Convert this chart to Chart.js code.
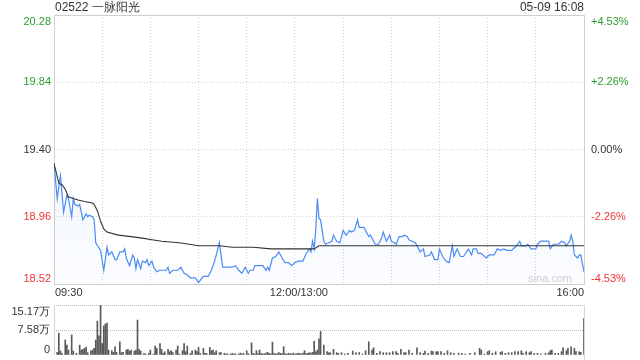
<!DOCTYPE html>
<html>
<head>
<meta charset="utf-8">
<script src="https://cdn.jsdelivr.net/npm/chart.js@4"></script>
<style>
body{margin:0;background:#fff;}
#wrap{position:relative;width:640px;height:360px;overflow:hidden;}
#priceChart{position:absolute;left:0;top:0;}
#volChart{position:absolute;left:0;top:295px;}
</style>
</head>
<body>
<div id="wrap">
<canvas id="priceChart" width="640" height="300"></canvas>
<canvas id="volChart" width="640" height="65"></canvas>
</div>
<script>
const stockName = '02522 一脉阳光'
const stampText = '05-09 16:08'
const timeLabels = ['09:30', '12:00/13:00', '16:00']
const timeLabelAt = [0, 150, 330]
const gridMins = [0, 30, 60, 90, 120, 150, 180, 210, 240, 270, 300, 330]
const priceTicks = [18.52, 18.96, 19.40, 19.84, 20.28]
const pctLabels = ['-4.53%', '-2.26%', '0.00%', '+2.26%', '+4.53%']
const prevClose = 19.40
const volTicks = [0, 7.58, 15.17]
const volLabels = ['0', '7.58万', '15.17万']

// minute index (0 = 09:30, 150 = 12:00/13:00, 330 = 16:00)
const priceMin = [0,2,4,6,8,9,11,12,13,15,16,18,20,21,22,24,25,26,29,31,33,34,36,38,39,41,43,44,45,47,49,50,51,52,54,55,57,58,59,61,62,64,66,70,71,72,74,77,79,81,83,85,88,90,93,96,98,100,103,104,105,111,113,115,117,119,120,121,122,124,125,130,132,133,134,136,138,140,142,144,146,148,150,152,155,157,159,160,161,162,163,164,165,166,168,169,171,173,174,176,178,180,182,184,185,187,189,190,193,196,197,200,202,204,205,207,209,210,212,213,215,217,218,220,221,223,225,227,228,230,231,234,235,237,239,240,242,244,246,248,249,251,253,255,258,260,261,263,264,266,269,271,274,276,278,280,282,285,288,290,291,294,295,297,300,301,303,305,308,309,311,314,316,318,319,321,322,323,324,326,327,328,330]
const priceVal = [19.31,19.08,19.23,18.99,19.10,19.08,18.96,19.08,19.04,19.03,19.04,18.94,18.98,18.96,18.97,18.96,18.94,18.79,18.74,18.61,18.76,18.71,18.73,18.68,18.68,18.73,18.73,18.75,18.69,18.64,18.71,18.69,18.62,18.68,18.62,18.67,18.66,18.68,18.64,18.67,18.63,18.60,18.61,18.61,18.63,18.59,18.61,18.61,18.63,18.59,18.58,18.56,18.56,18.53,18.57,18.57,18.61,18.67,18.79,18.71,18.63,18.63,18.64,18.61,18.59,18.63,18.61,18.59,18.61,18.61,18.64,18.64,18.61,18.63,18.61,18.69,18.70,18.73,18.69,18.66,18.66,18.64,18.66,18.67,18.67,18.72,18.75,18.73,18.80,18.75,18.88,19.08,18.95,18.94,18.80,18.78,18.79,18.80,18.84,18.80,18.79,18.87,18.84,18.87,18.86,18.87,18.94,18.89,18.89,18.83,18.84,18.78,18.78,18.82,18.86,18.80,18.84,18.80,18.79,18.78,18.83,18.83,18.84,18.83,18.81,18.80,18.79,18.75,18.73,18.75,18.70,18.71,18.73,18.68,18.68,18.75,18.70,18.67,18.66,18.77,18.70,18.75,18.70,18.70,18.75,18.71,18.75,18.75,18.72,18.72,18.69,18.71,18.71,18.75,18.74,18.75,18.74,18.74,18.77,18.80,18.77,18.77,18.78,18.75,18.75,18.78,18.80,18.80,18.80,18.75,18.78,18.78,18.80,18.79,18.77,18.80,18.84,18.80,18.71,18.69,18.71,18.71,18.60]

const avgMin = [0,3,5,7,9,12,15,19,24,25,27,29,31,33,40,48,55,61,67,78,90,103,111,124,135,162,165,190,330]
const avgVal = [19.31,19.18,19.17,19.14,19.09,19.08,19.07,19.06,19.05,19.04,19.00,18.93,18.88,18.86,18.84,18.83,18.82,18.81,18.80,18.79,18.77,18.77,18.76,18.76,18.75,18.75,18.77,18.77,18.77]

// volume in 万 shares
const volMin = [2,3,4,5,7,8,9,11,12,14,16,17,18,19,20,21,23,24,25,26,27,28,29,30,31,32,33,34,36,37,38,39,41,42,43,45,46,47,48,50,51,52,53,54,56,57,59,60,62,63,64,66,67,68,69,71,72,73,74,76,77,78,80,81,82,83,85,86,88,89,90,91,93,94,95,97,98,99,100,101,103,104,106,107,108,110,111,112,113,115,116,117,118,120,121,123,124,125,126,127,128,129,130,131,132,133,134,135,136,137,138,139,140,141,142,143,144,145,146,147,148,149,150,151,152,153,154,155,156,157,158,159,160,161,162,163,164,165,166,168,170,171,172,174,176,177,179,181,183,186,188,190,192,194,196,198,199,201,203,205,207,209,211,213,214,216,218,219,221,223,226,228,230,231,233,235,236,238,239,241,243,245,247,249,252,254,256,259,262,265,266,268,270,271,273,275,278,279,281,283,285,287,289,291,292,294,296,297,299,301,303,306,308,309,310,312,314,316,317,319,320,322,324,325,327,328,330]
const volVal = [0.8,6.6,1.2,0.5,4.55,3.0,1.5,6.1,1.2,0.5,3.0,1.5,1.7,2.0,2.4,0.7,1.3,1.5,2.0,4.55,10.3,5.8,15.17,3.5,8.8,9.4,9.7,1.5,1.3,0.8,2.5,0.8,4.0,0.7,0.8,1.5,1.7,1.2,1.5,1.2,1.5,10.6,1.7,1.2,0.5,0.3,0.5,1.5,0.3,2.7,2.0,3.5,1.7,0.5,1.0,1.7,1.0,1.3,0.7,1.5,2.7,0.3,1.3,3.5,1.0,2.7,0.5,1.3,1.5,1.0,2.3,0.5,2.0,0.5,0.5,2.3,1.3,1.5,0.7,1.3,0.7,0.7,0.5,0.3,0.4,0.3,0.5,0.3,0.4,0.3,0.6,0.3,0.5,1.3,0.4,3.7,0.5,0.3,1.3,0.4,1.5,0.5,0.3,0.4,0.6,0.8,0.5,0.3,3.9,0.5,0.3,0.4,0.7,0.5,0.4,2.5,0.4,0.3,0.5,0.4,0.3,0.6,0.3,0.4,0.5,0.5,0.3,0.6,1.3,0.4,0.5,0.7,0.6,0.8,4.2,1.0,1.5,4.9,7.1,3.0,1.0,0.7,0.7,1.7,0.7,0.5,0.7,0.3,0.5,1.2,0.7,0.7,0.3,1.3,4.0,1.5,2.2,0.5,1.0,0.7,0.7,0.7,1.0,1.0,0.5,1.7,0.7,0.7,1.5,0.5,2.2,0.7,0.5,1.2,0.5,1.2,1.0,1.0,1.0,1.0,0.5,1.3,0.7,0.5,0.5,0.5,0.3,0.5,0.7,2.0,1.5,0.3,1.0,1.3,0.5,1.0,0.8,1.0,0.5,0.7,0.7,1.0,1.0,1.3,0.5,1.0,0.7,1.0,0.5,0.5,0.3,0.5,0.7,1.3,1.5,0.5,0.5,1.0,2.2,1.3,2.0,2.5,2.0,1.0,1.0,0.8,11.1]

const GREEN = '#2a9d2a'
const RED = '#ee3535'
const FONT = '"Liberation Sans", Arial, sans-serif'

const pts = (xs, ys) => xs.map((x, i) => ({x: x, y: ys[i]}))

const priceChart = () => {
    const ctx = document.getElementById('priceChart').getContext('2d')

    const decor = {
        id: 'decor',
        beforeDatasetsDraw(chart) {
            const c = chart.ctx, a = chart.chartArea
            c.save()
            c.strokeStyle = '#cfcfcf'
            c.lineWidth = 1
            c.strokeRect(Math.round(a.left) + 0.5, Math.round(a.top) + 0.5,
                Math.round(a.right) - Math.round(a.left), Math.round(a.bottom) - Math.round(a.top))
            // watermark
            c.fillStyle = '#cfcfcf'
            c.font = '11px ' + FONT
            c.textAlign = 'right'
            c.textBaseline = 'alphabetic'
            c.fillText('sina.com', a.right - 12, a.bottom - 2)
            c.restore()
        },
        afterDraw(chart) {
            const c = chart.ctx, a = chart.chartArea
            const ys = chart.scales.y, xs = chart.scales.x
            c.save()
            c.font = '12px ' + FONT
            c.fillStyle = '#333'
            c.textBaseline = 'middle'
            c.textAlign = 'left'
            c.fillText(stockName, a.left + 1, 8)
            c.textAlign = 'right'
            c.fillText(stampText, a.right, 8)

            c.font = '11px ' + FONT
            const last = priceTicks.length - 1
            priceTicks.forEach((v, i) => {
                const py = ys.getPixelForValue(v)
                c.textBaseline = i === 0 ? 'bottom' : (i === last ? 'top' : 'middle')
                c.fillStyle = v > prevClose ? GREEN : (v < prevClose ? RED : '#333')
                c.textAlign = 'right'
                c.fillText(v.toFixed(2), a.left - 3, i === last ? py + 1 : py)
                c.textAlign = 'left'
                c.fillText(pctLabels[i], a.right + 7, i === last ? py + 1 : py)
            })

            c.fillStyle = '#333'
            c.textBaseline = 'middle'
            timeLabels.forEach((t, i) => {
                const px = xs.getPixelForValue(timeLabelAt[i])
                c.textAlign = i === 0 ? 'left' : (i === timeLabels.length - 1 ? 'right' : 'center')
                c.fillText(t, i === 0 ? px + 1 : (i === 1 ? px + 4 : px), 293)
            })
            c.restore()
        }
    }

    const config = {
        type: 'line',
        data: {
            datasets: [
                {
                    data: pts(priceMin, priceVal),
                    borderColor: '#4a8cf2',
                    borderWidth: 1.2,
                    pointRadius: 0,
                    tension: 0,
                    fill: 'start',
                    backgroundColor: (context) => {
                        const area = context.chart.chartArea
                        if (!area) return 'rgba(74,140,242,0.06)'
                        const g = context.chart.ctx.createLinearGradient(0, area.top, 0, area.bottom)
                        g.addColorStop(0, 'rgba(74,140,242,0.16)')
                        g.addColorStop(1, 'rgba(74,140,242,0.02)')
                        return g
                    },
                    order: 2
                },
                {
                    data: pts(avgMin, avgVal),
                    borderColor: '#333',
                    borderWidth: 1.1,
                    pointRadius: 0,
                    tension: 0,
                    fill: false,
                    order: 1
                }
            ]
        },
        options: {
            responsive: false,
            animation: false,
            events: [],
            layout: {padding: {left: 54, right: 56, top: 15, bottom: 16}},
            plugins: {legend: {display: false}, tooltip: {enabled: false}},
            scales: {
                x: {
                    type: 'linear',
                    min: 0,
                    max: 330,
                    afterBuildTicks: (s) => { s.ticks = gridMins.map(v => ({value: v})) },
                    ticks: {display: false},
                    grid: {color: '#d2d2d2', drawTicks: false},
                    border: {display: false, dash: [1, 2]}
                },
                y: {
                    min: priceTicks[0],
                    max: priceTicks[priceTicks.length - 1],
                    afterBuildTicks: (s) => { s.ticks = priceTicks.map(v => ({value: v})) },
                    ticks: {display: false},
                    grid: {color: '#d2d2d2', drawTicks: false},
                    border: {display: false, dash: [1, 2]}
                }
            }
        },
        plugins: [decor]
    }
    new Chart(ctx, config)
}

const volChart = () => {
    const ctx = document.getElementById('volChart').getContext('2d')

    const decor = {
        id: 'volDecor',
        beforeDatasetsDraw(chart) {
            const c = chart.ctx, a = chart.chartArea
            c.save()
            c.strokeStyle = '#d6d6d6'
            c.lineWidth = 1
            c.beginPath()
            c.moveTo(Math.round(a.left) + 0.5, a.top)
            c.lineTo(Math.round(a.left) + 0.5, a.bottom)
            c.moveTo(Math.round(a.right) + 0.5, a.top)
            c.lineTo(Math.round(a.right) + 0.5, a.bottom + 5)
            c.stroke()
            c.restore()
        },
        afterDraw(chart) {
            const c = chart.ctx, a = chart.chartArea
            const ys = chart.scales.y
            c.save()
            c.font = '11px ' + FONT
            c.fillStyle = '#333'
            c.textAlign = 'right'
            const last = volTicks.length - 1
            volTicks.forEach((v, i) => {
                const py = ys.getPixelForValue(v)
                c.textBaseline = i === 0 ? 'bottom' : (i === last ? 'top' : 'middle')
                c.fillText(volLabels[i], a.left - 4, i === last ? py + 1 : py)
            })
            c.restore()
        }
    }

    const config = {
        type: 'bar',
        data: {
            datasets: [{
                data: pts(volMin, volVal),
                backgroundColor: '#595959',
                barThickness: 1,
                borderWidth: 0
            }]
        },
        options: {
            responsive: false,
            animation: false,
            events: [],
            layout: {padding: {left: 54, right: 56, top: 10, bottom: 5}},
            plugins: {legend: {display: false}, tooltip: {enabled: false}},
            scales: {
                x: {
                    type: 'linear',
                    min: 0,
                    max: 330,
                    offset: false,
                    ticks: {display: false},
                    grid: {display: false, drawTicks: false},
                    border: {display: false}
                },
                y: {
                    min: 0,
                    max: volTicks[volTicks.length - 1],
                    afterBuildTicks: (s) => { s.ticks = volTicks.map(v => ({value: v})) },
                    ticks: {display: false},
                    grid: {
                        color: (c) => c.tick && c.tick.value === 0 ? 'rgba(0,0,0,0)' : '#bdbdbd',
                        drawTicks: false
                    },
                    border: {display: false, dash: [1, 1]}
                }
            }
        },
        plugins: [decor]
    }
    new Chart(ctx, config)
}

priceChart()
volChart()
</script>
</body>
</html>
